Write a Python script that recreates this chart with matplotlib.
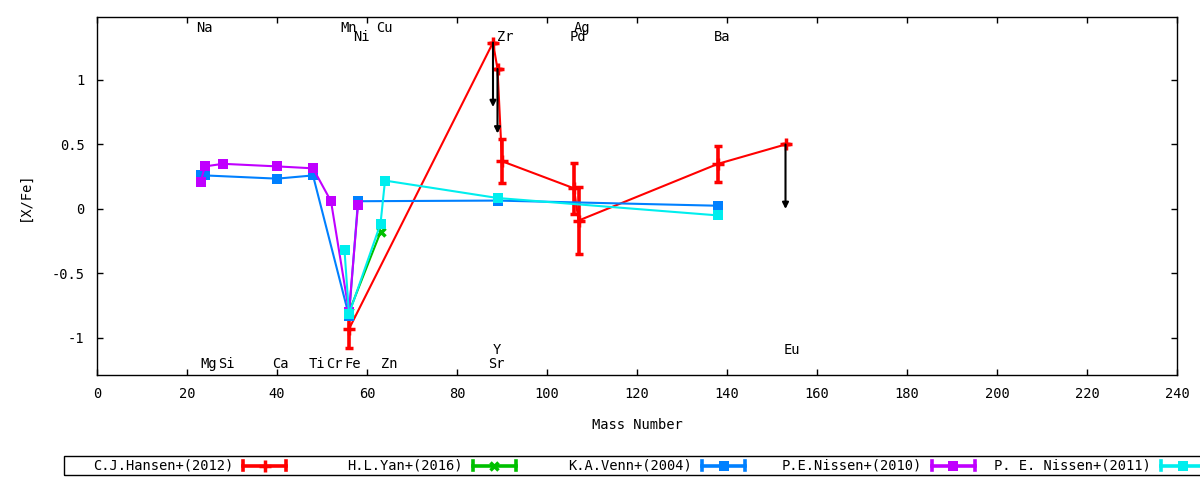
import matplotlib
matplotlib.use('Agg')
import matplotlib.pyplot as plt
from matplotlib.lines import Line2D
from matplotlib.patches import Rectangle

plt.rcParams['font.family'] = ['DejaVu Sans Mono']
FS = 9.9

# ---------------- data ----------------
hansen_mass = [56, 88, 89, 90, 106, 107, 138, 153]
hansen_val = [-0.93, 1.29, 1.085, 0.37, 0.16, -0.09, 0.35, 0.50]
hansen_err = [0.15, 0.0, 0.0, 0.17, 0.20, 0.26, 0.14, 0.0]

limit_mass = [88, 89, 153]
limit_val = [1.29, 1.085, 0.50]
limit_len = 0.5

yan_mass = [56, 63]
yan_val = [-0.80, -0.18]

venn_mass = [23, 24, 40, 48, 56, 58, 89, 138]
venn_val = [0.26, 0.26, 0.235, 0.26, -0.83, 0.06, 0.065, 0.025]

nissen10_mass = [23, 24, 28, 40, 48, 52, 56, 58]
nissen10_val = [0.21, 0.33, 0.35, 0.33, 0.315, 0.06, -0.80, 0.03]

nissen11_mass = [55, 56, 63, 64, 89, 138]
nissen11_val = [-0.32, -0.815, -0.115, 0.22, 0.085, -0.05]

elem_names = ['Na', 'Mn', 'Cu', 'Ni', 'Zr', 'Ag', 'Pd', 'Ba',
              'Mg', 'Si', 'Ca', 'Ti', 'Cr', 'Fe', 'Zn', 'Sr', 'Y', 'Eu']
elem_x = [22, 54, 62, 57, 89, 106, 105, 137,
          23, 27, 39, 47, 51, 55, 63, 87, 88, 152.6]
elem_y = [1.40, 1.40, 1.40, 1.33, 1.33, 1.40, 1.33, 1.33,
          -1.20, -1.20, -1.20, -1.20, -1.20, -1.20, -1.20, -1.20, -1.09, -1.09]

legend_labels = ['C.J.Hansen+(2012)', 'H.L.Yan+(2016)', 'K.A.Venn+(2004)',
                 'P.E.Nissen+(2010)', 'P. E. Nissen+(2011)']
colors = ['#ff0000', '#00c000', '#0080ff', '#c000ff', '#00eeee']
markers = ['+', 'x', 's', 's', 's']

xticks = list(range(0, 241, 20))
yticks = [-1, -0.5, 0, 0.5, 1]
ytick_labels = ['-1', '-0.5', '0', '0.5', '1']

# ---------------- figure ----------------
W, H = 1200, 480
fig = plt.figure(figsize=(W / 100, H / 100), dpi=100)
ax = fig.add_axes([97 / W, 1 - 375 / H, (1177 - 97) / W, (375 - 17) / H])

LW = 1.5
ax.errorbar(hansen_mass, hansen_val, yerr=hansen_err, color=colors[0], lw=LW,
            elinewidth=2.6, capsize=3.2, capthick=2.6, marker='+', ms=8, mew=2.5,
            zorder=2)
ax.plot(yan_mass, yan_val, color=colors[1], lw=LW, marker='x', ms=6, mew=2.5, zorder=3)
ax.plot(venn_mass, venn_val, color=colors[2], lw=LW, marker='s', ms=6.5, mew=0, zorder=4)
ax.plot(nissen10_mass, nissen10_val, color=colors[3], lw=LW, marker='s', ms=6.5, mew=0, zorder=5)
ax.plot(nissen11_mass, nissen11_val, color=colors[4], lw=LW, marker='s', ms=6.5, mew=0, zorder=6)

for m, v in zip(limit_mass, limit_val):
    ax.annotate('', xy=(m, v - limit_len), xytext=(m, v),
                arrowprops=dict(arrowstyle='-|>', color='black', lw=1.5,
                                mutation_scale=9, shrinkA=0, shrinkB=0),
                zorder=8)

for name, x, y in zip(elem_names, elem_x, elem_y):
    ax.text(x, y, name, ha='left', va='center', fontsize=FS, zorder=9)

ax.set_xlim(0, 240)
ax.set_ylim(-1.287, 1.488)
ax.set_xticks(xticks)
ax.set_xticklabels([str(t) for t in xticks])
ax.set_yticks(yticks)
ax.set_yticklabels(ytick_labels)
ax.tick_params(direction='in', length=4, width=1, top=True, right=True,
               labelsize=FS, pad=9)
for s in ax.spines.values():
    s.set_linewidth(1)
ax.set_xlabel('Mass Number', fontsize=FS, labelpad=12)
ax.set_ylabel('[X/Fe]', fontsize=FS, labelpad=14)

# ---------------- legend (gnuplot style, horizontal) ----------------
def fx(px):
    return px / W

def fy(py):
    return 1 - py / H

fig.add_artist(Rectangle((fx(64), fy(475)), fx(1220) - fx(64), fy(456) - fy(475),
                         transform=fig.transFigure, fill=False, lw=1, ec='black'))
ly = 465.5
for i, (lab, c, mk) in enumerate(zip(legend_labels, colors, markers)):
    xr = 233 + i * 229.5
    fig.text(fx(xr), fy(ly), lab, ha='right', va='center', fontsize=FS)
    x0, x1 = xr + 10, xr + 53
    fig.add_artist(Line2D([fx(x0), fx(x1)], [fy(ly), fy(ly)], color=c, lw=2.6,
                          transform=fig.transFigure))
    for xc in (x0, x1):
        fig.add_artist(Line2D([fx(xc), fx(xc)], [fy(ly - 4.5), fy(ly + 4.5)], color=c,
                              lw=2.6, transform=fig.transFigure))
    ms = 8 if mk == '+' else (6 if mk == 'x' else 6.5)
    fig.add_artist(Line2D([fx((x0 + x1) / 2)], [fy(ly)], color=c, marker=mk, ms=ms,
                          mew=2.5 if mk in '+x' else 0, transform=fig.transFigure))

fig.savefig('out.png', dpi=100)
